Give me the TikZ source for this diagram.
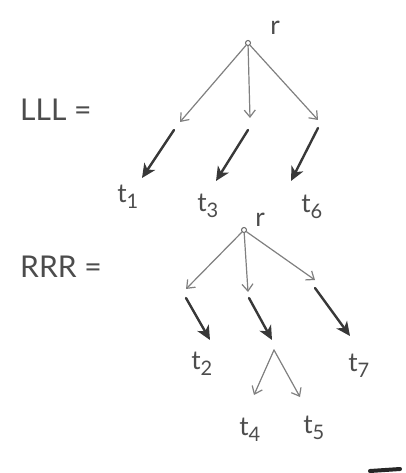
\documentclass[tikz,border=0pt]{standalone}
\usepackage{fontspec}
\setmainfont{Lato}
\usetikzlibrary{arrows.meta}
\tikzset{
  thin/.style={draw=black!50, line width=1.2pt, line cap=round, -{Straight Barb[length=7pt,width=11pt,line width=1.2pt]}},
  dark/.style={draw=black!78, line width=2.4pt, line cap=round, -{Stealth[length=14pt,width=13pt,inset=4pt]}},
  lab/.style={text=black!70, font=\fontsize{30}{30}\selectfont, inner sep=0pt},
  tlab/.style={text=black!70, font=\fontsize{26}{26}\selectfont, inner sep=0pt},
  dotr/.style={circle, draw=black!60, line width=1pt, inner sep=0pt, minimum size=5pt},
}
\newcommand{\tsub}[1]{t\textsubscript{\fontsize{20}{20}\selectfont #1}}
\begin{document}
\begin{tikzpicture}[x=1pt,y=-1pt]
\useasboundingbox[fill=white] (0,0) rectangle (406,473);
% ---------- LLL ----------
\node[lab,anchor=west] (LLL) at (20,110) {LLL =};
\node[dotr] (r1) at (248,43) {};
\node[tlab] (r1l) at (275,28) {r};
\coordinate (a1) at (180,122);
\coordinate (a2) at (250,118);
\coordinate (a3) at (318,120);
\draw[thin] (r1) -- (a1);
\draw[thin] (r1) -- (a2);
\draw[thin] (r1) -- (a3);
\coordinate (b1) at (174,130);
\coordinate (b2) at (248,130);
\coordinate (b3) at (318,128);
\node[tlab] (t1) at (128,197) {\tsub{1}};
\node[tlab] (t3) at (208,206) {\tsub{3}};
\node[tlab] (t6) at (312,207) {\tsub{6}};
\coordinate (e1) at (142,178);
\coordinate (e2) at (216,181);
\coordinate (e3) at (291,181);
\draw[dark] (b1) -- (e1);
\draw[dark] (b2) -- (e2);
\draw[dark] (b3) -- (e3);
% ---------- RRR ----------
\node[lab,anchor=west] (RRR) at (20,267) {RRR =};
\node[dotr] (r2) at (244,230) {};
\node[tlab] (r2l) at (260,220) {r};
\coordinate (c1) at (186,289);
\coordinate (c2) at (248,292);
\coordinate (c3) at (315,280);
\draw[thin] (r2) -- (c1);
\draw[thin] (r2) -- (c2);
\draw[thin] (r2) -- (c3);
\coordinate (d1) at (186,298);
\coordinate (d2) at (249,298);
\coordinate (d3) at (315,288);
\coordinate (f1) at (210,340);
\coordinate (f2) at (272,340);
\coordinate (f3) at (350,336);
\draw[dark] (d1) -- (f1);
\draw[dark] (d2) -- (f2);
\draw[dark] (d3) -- (f3);
\node[tlab] (t2) at (202,364) {\tsub{2}};
\node[tlab] (t7) at (359,366) {\tsub{7}};
\coordinate (g) at (274,350);
\coordinate (h1) at (254,395);
\coordinate (h2) at (300,397);
\draw[thin] (g) -- (h1);
\draw[thin] (g) -- (h2);
\node[tlab] (t4) at (250,430) {\tsub{4}};
\node[tlab] (t5) at (314,428) {\tsub{5}};
% fragment at bottom right
\draw[black!85, line width=4pt, line cap=round] (370,471) -- (400,469);
\end{tikzpicture}
\end{document}
